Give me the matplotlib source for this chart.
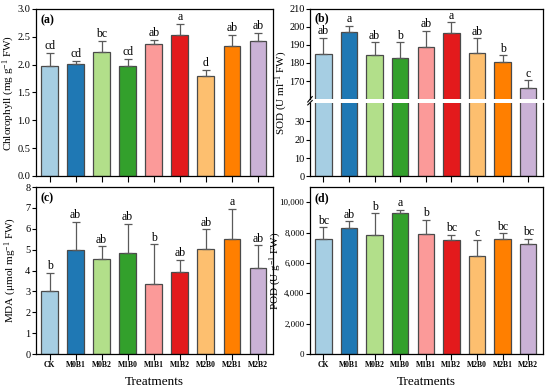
import numpy as np
import matplotlib
matplotlib.use('Agg')
import matplotlib.pyplot as plt
from matplotlib.ticker import FuncFormatter

plt.rcParams['font.family'] = ['Liberation Serif', 'DejaVu Serif']
plt.rcParams['mathtext.fontset'] = 'custom'
plt.rcParams['mathtext.rm'] = 'Liberation Serif'
plt.rcParams['mathtext.it'] = 'Liberation Serif:italic'
plt.rcParams['mathtext.bf'] = 'Liberation Serif:bold'

treatments = ['CK', 'M0B1', 'M0B2', 'M1B0', 'M1B1', 'M1B2', 'M2B0', 'M2B1', 'M2B2']
colors = ['#a6cee3', '#1f78b4', '#b2df8a', '#33a02c', '#fb9a99',
          '#e31a1c', '#fdbf6f', '#ff7f00', '#cab2d6']

chl = [1.97, 2.02, 2.23, 1.98, 2.38, 2.54, 1.79, 2.33, 2.43]
chl_err = [0.24, 0.04, 0.19, 0.12, 0.07, 0.19, 0.12, 0.20, 0.13]
chl_letters = ['cd', 'cd', 'bc', 'cd', 'ab', 'a', 'd', 'ab', 'ab']

sod = [184.9, 196.9, 184.5, 182.7, 188.9, 196.7, 185.5, 180.4, 166.4]
sod_err = [9.1, 3.6, 7.1, 8.9, 8.9, 5.8, 8.1, 3.8, 4.1]
sod_letters = ['ab', 'a', 'ab', 'b', 'ab', 'a', 'ab', 'b', 'c']

mda = [3.01, 4.99, 4.56, 4.86, 3.33, 3.94, 5.02, 5.49, 4.10]
mda_err = [0.86, 1.35, 0.59, 1.36, 1.92, 0.57, 0.95, 1.45, 1.10]
mda_letters = ['b', 'ab', 'ab', 'ab', 'b', 'ab', 'ab', 'a', 'ab']

pod = [7577, 8282, 7841, 9295, 7907, 7489, 6476, 7599, 7269]
pod_err = [771, 462, 1432, 220, 926, 352, 1057, 353, 308]
pod_letters = ['bc', 'ab', 'b', 'a', 'b', 'bc', 'c', 'bc', 'bc']

W, H = 550, 390
fig = plt.figure(figsize=(W / 100, H / 100), dpi=100)


def px(l, t, r, b):
    return [l / W, 1 - b / H, (r - l) / W, (b - t) / H]


x = np.arange(len(treatments))


def bars(ax, vals, errs):
    ax.bar(x, vals, width=0.64, color=colors, edgecolor='#4a4a4a', linewidth=0.9, zorder=2)
    ax.errorbar(x, vals, yerr=[np.zeros(len(vals)), errs], fmt='none',
                ecolor='#5a5a5a', elinewidth=0.9, capsize=3, capthick=0.9, zorder=3)


def letters(ax, vals, errs, labs, off):
    for xi, v, e, s in zip(x, vals, errs, labs):
        ax.text(xi, v + e + off, s, ha='center', va='bottom', fontsize=8.5)


def style(ax, show_x=False):
    ax.set_xlim(-0.52, 8.58)
    ax.set_xticks(x)
    ax.tick_params(axis='both', direction='out', labelsize=7.5, length=3, width=0.8, pad=1)
    ax.tick_params(axis='x', length=4)
    if show_x:
        ax.set_xticklabels(treatments, fontsize=5.5, fontweight='bold')
    else:
        ax.set_xticklabels([])
    for s in ax.spines.values():
        s.set_linewidth(0.9)


def ylab(xp, top, bot, s):
    fig.text(xp / W, 1 - (top + bot) / 2 / H, s, rotation=90, ha='center', va='center',
             fontsize=8)


def xlab(l, r, s):
    fig.text((l + r) / 2 / W, 1 - 382 / H, s, ha='center', va='center', fontsize=9.5)


# (a) chlorophyll
ax = fig.add_axes(px(36, 9, 273, 176))
bars(ax, chl, chl_err)
letters(ax, chl, chl_err, chl_letters, 0.02)
ax.set_ylim(0, 3.0)
ax.set_yticks(np.arange(0, 3.01, 0.5))
ax.yaxis.set_major_formatter(FuncFormatter(lambda v, p: f'{v:.1f}'))
style(ax)
ylab(9, 9, 176, 'Chlorophyll (mg g$^{-1}$ FW)')
ax.text(0.02, 0.97, '(a)', transform=ax.transAxes, fontsize=8.5, fontweight='bold', va='top')

# (b) SOD with broken axis
axu = fig.add_axes(px(310, 8.5, 543, 99.3))
axl = fig.add_axes(px(310, 102.7, 543, 176.5))
for a in (axu, axl):
    bars(a, sod, sod_err)
axu.set_ylim(160, 210)
axl.set_ylim(0, 40)
axu.set_yticks([170, 180, 190, 200, 210])
axl.set_yticks([0, 10, 20, 30])
letters(axu, sod, sod_err, sod_letters, 0.2)
style(axu)
style(axl)
axu.spines['bottom'].set_visible(False)
axu.tick_params(axis='x', length=0)
axl.spines['top'].set_visible(False)
d = 0.012
for a, yy in ((axu, 0.0), (axl, 1.0)):
    a.plot([-d * 0.8, d * 0.8], [yy - 0.03, yy + 0.03], transform=a.transAxes,
           color='black', lw=0.8, clip_on=False)
axu.text(0.02, 0.96, '(b)', transform=axu.transAxes, fontsize=8.5, fontweight='bold', va='top')
ylab(282, 8.5, 176.5, 'SOD (U ml$^{-1}$ FW)')

# (c) MDA
ax = fig.add_axes(px(36, 187, 273, 354))
bars(ax, mda, mda_err)
letters(ax, mda, mda_err, mda_letters, 0.04)
ax.set_ylim(0, 8)
ax.set_yticks(range(0, 9))
style(ax, show_x=True)
ylab(11, 187, 354, 'MDA (μmol mg$^{-1}$ FW)')
xlab(36, 273, 'Treatments')
ax.text(0.02, 0.97, '(c)', transform=ax.transAxes, fontsize=8.5, fontweight='bold', va='top')

# (d) POD
ax = fig.add_axes(px(310, 187, 543, 354))
bars(ax, pod, pod_err)
letters(ax, pod, pod_err, pod_letters, 40)
ax.set_ylim(0, 11000)
ax.set_yticks(range(0, 10001, 2000))
ax.yaxis.set_major_formatter(FuncFormatter(lambda v, p: f'{int(v):,}'))
style(ax, show_x=True)
ax.tick_params(axis='y', labelsize=6.5)
ylab(276, 187, 354, 'POD (U g$^{-1}$ FW)')
xlab(310, 543, 'Treatments')
ax.text(0.02, 0.97, '(d)', transform=ax.transAxes, fontsize=8.5, fontweight='bold', va='top')

fig.savefig('out.png', dpi=100)
